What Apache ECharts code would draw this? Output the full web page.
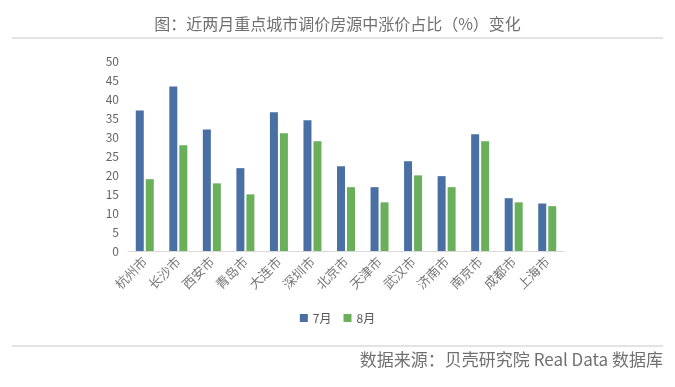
<!DOCTYPE html>
<html><head><meta charset="utf-8">
<script src="https://cdn.jsdelivr.net/npm/echarts@6/dist/echarts.min.js"></script>
<style>html,body{margin:0;padding:0;background:#fff}#c{width:675px;height:387px}</style>
</head><body><div id="c"></div>
<script>
const categories = ['杭州市','长沙市','西安市','青岛市','大连市','深圳市','北京市','天津市','武汉市','济南市','南京市','成都市','上海市'];
const july = [37.0, 43.3, 32.0, 21.8, 36.5, 34.4, 22.3, 16.8, 23.6, 19.7, 30.7, 13.9, 12.5];
const august = [18.9, 27.8, 17.8, 14.9, 31.0, 28.9, 16.8, 12.8, 19.9, 16.8, 28.9, 12.8, 11.8];
const seriesNames = ['7月','8月'];
const titleText = '图：近两月重点城市调价房源中涨价占比（%）变化';
const sourceText = '数据来源：贝壳研究院 Real Data 数据库';

const chart = echarts.init(document.getElementById('c'));
const font = '"Noto Sans CJK SC", "Noto Sans", sans-serif';
chart.setOption({
  animation: false,
  textStyle: {fontFamily: font},
  title: {text: titleText, left: 'center', top: 11, textStyle: {fontSize: 16, fontWeight: 'normal', color: '#707070', fontFamily: font}},
  legend: {data: seriesNames, bottom: 58, left: 'center', itemWidth: 8, itemHeight: 8, itemGap: 12,
    icon: 'rect', textStyle: {fontSize: 12, color: '#555', fontFamily: font}},
  grid: {left: 128, right: 111, top: 61, bottom: 136},
  xAxis: {type: 'category', data: categories,
    axisLine: {lineStyle: {color: '#d9d9d9'}}, axisTick: {show: false},
    axisLabel: {rotate: 45, fontSize: 13, color: '#777', margin: 8, interval: 0, fontFamily: font}},
  yAxis: {type: 'value', min: 0, max: 50, interval: 5,
    splitLine: {show: false}, axisLine: {show: false}, axisTick: {show: false},
    axisLabel: {fontSize: 12, color: '#666', margin: 9}},
  series: [
    {name: seriesNames[0], type: 'bar', data: july, barWidth: 8, barGap: '25%', itemStyle: {color: '#4a6fa5'}},
    {name: seriesNames[1], type: 'bar', data: august, barWidth: 8, itemStyle: {color: '#6aaf5a'}}
  ],
  graphic: [
    {type: 'line', shape: {x1: 12, y1: 38, x2: 663, y2: 38}, style: {stroke: '#c8c8c8', lineWidth: 1}},
    {type: 'line', shape: {x1: 12, y1: 346, x2: 663, y2: 346}, style: {stroke: '#c8c8c8', lineWidth: 1}},
    {type: 'text', right: 12, top: 351, style: {text: sourceText, fill: '#707070', font: '17px ' + font}}
  ]
});
</script></body></html>
